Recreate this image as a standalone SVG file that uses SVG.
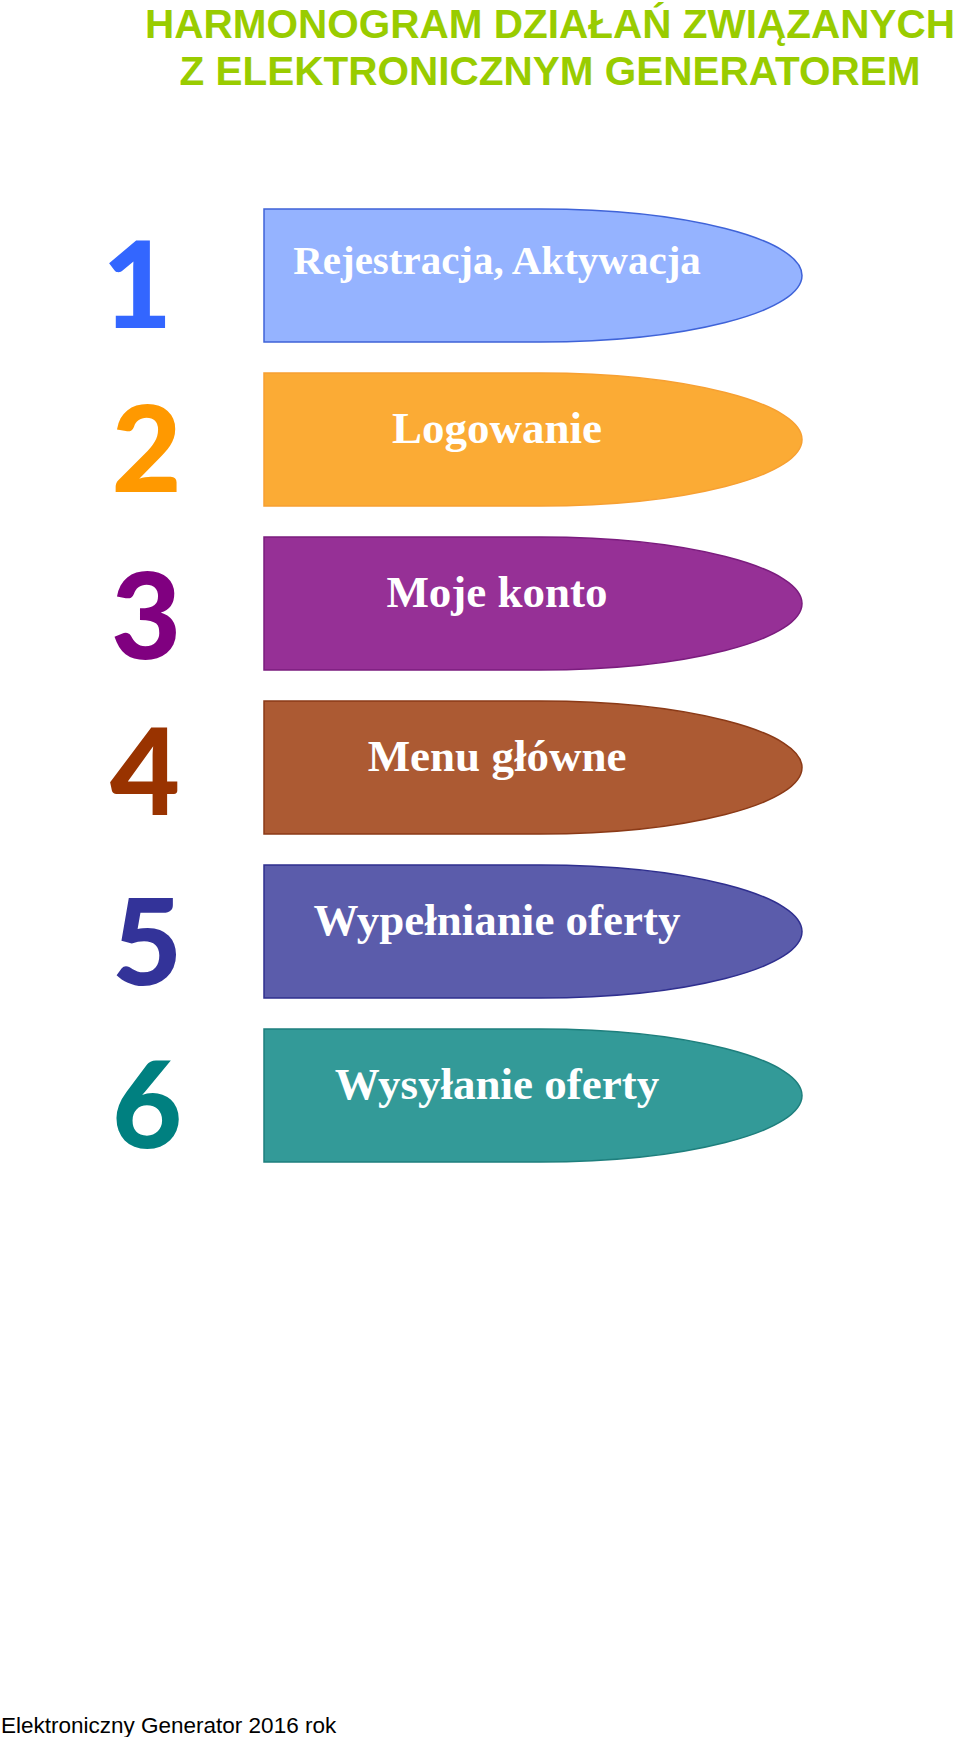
<svg xmlns="http://www.w3.org/2000/svg" width="960" height="1737" viewBox="0 0 960 1737">
<style>
.title{font-family:"Liberation Sans",Arial,sans-serif;font-weight:bold;font-size:40.5px;fill:#99cc00;text-anchor:middle}
.num{font-family:Lato,"Open Sans",sans-serif;font-weight:900;font-size:121px;text-anchor:middle}
.lbl{font-family:"Liberation Serif","Times New Roman",serif;font-weight:bold;font-size:45px;fill:#ffffff;text-anchor:middle}
.shape{stroke-width:1.5}
.foot{font-family:"Liberation Sans",Arial,sans-serif;font-size:22.5px;fill:#000000}
</style>
<defs>
<path id="bullet" d="M264,0 H540 A262,66.5 0 0 1 540,133 H264 Z"/>
</defs>
<rect width="960" height="1737" fill="#ffffff"/>
<g id="title">
<text class="title" x="550" y="38">HARMONOGRAM DZIAŁAŃ ZWIĄZANYCH</text>
<text class="title" x="550" y="85">Z ELEKTRONICZNYM GENERATOREM</text>
</g>
<g id="connectors"></g>
<g id="step1">
<text class="num" x="137" y="328" fill="#3366ff">1</text>
<use href="#bullet" class="shape" transform="translate(0,209)" fill="#95b3ff" stroke="#3f63d8"/>
<text class="lbl" x="497" y="274" style="font-size:41px">Rejestracja, Aktywacja</text>
</g>
<g id="step2">
<text class="num" x="146.5" y="492" fill="#ff9900">2</text>
<use href="#bullet" class="shape" transform="translate(0,373)" fill="#fbab35" stroke="#f7a032"/>
<text class="lbl" x="497" y="443">Logowanie</text>
</g>
<g id="step3">
<text class="num" x="146" y="659" fill="#800080">3</text>
<use href="#bullet" class="shape" transform="translate(0,537)" fill="#963096" stroke="#7b1c7e"/>
<text class="lbl" x="497" y="607">Moje konto</text>
</g>
<g id="step4">
<text class="num" x="145" y="815" fill="#993300">4</text>
<use href="#bullet" class="shape" transform="translate(0,701)" fill="#ac5a33" stroke="#8b3a17"/>
<text class="lbl" x="497" y="771">Menu główne</text>
</g>
<g id="step5">
<text class="num" x="147" y="985" fill="#333399">5</text>
<use href="#bullet" class="shape" transform="translate(0,865)" fill="#5b5cab" stroke="#2f2f8f"/>
<text class="lbl" x="497" y="935">Wypełnianie oferty</text>
</g>
<g id="step6">
<text class="num" x="147" y="1148" fill="#008080">6</text>
<use href="#bullet" class="shape" transform="translate(0,1029)" fill="#339a98" stroke="#1e7f7d"/>
<text class="lbl" x="497" y="1099">Wysyłanie oferty</text>
</g>
<g id="footer">
<text class="foot" x="1" y="1733">Elektroniczny Generator 2016 rok</text>
</g>
</svg>
